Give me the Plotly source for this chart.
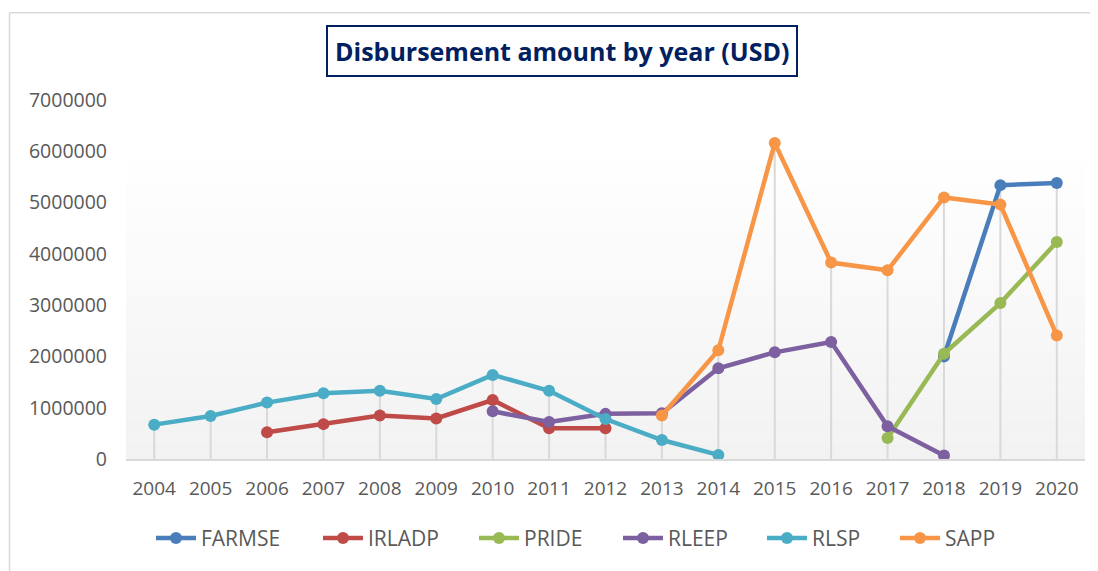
import plotly.graph_objects as go

years = list(range(2004, 2021))
series_names = ["FARMSE", "IRLADP", "PRIDE", "RLEEP", "RLSP", "SAPP"]

farmse = [None]*14 + [2000000, 5340000, 5380000]
irladp = [None, None, 520000, 680000, 850000, 790000, 1150000, 600000, 600000] + [None]*8
pride = [None]*13 + [410000, 2050000, 3040000, 4230000]
rleep = [None]*6 + [930000, 720000, 880000, 890000, 1770000, 2080000, 2280000, 640000, 70000, None, None]
rlsp = [670000, 840000, 1100000, 1280000, 1330000, 1170000, 1640000, 1330000, 780000, 370000, 80000] + [None]*6
sapp = [None]*9 + [850000, 2120000, 6160000, 3830000, 3680000, 5100000, 4960000, 2410000]

values = [farmse, irladp, pride, rleep, rlsp, sapp]
colors = ["#4A7EBB", "#BE4B48", "#98B954", "#7D60A0", "#4BACC6", "#F79646"]

y_ticks = [0, 1000000, 2000000, 3000000, 4000000, 5000000, 6000000, 7000000]

O = 8  # page body margin offset
W, H = 1098 - O, 571 - O
L, R, T, B = 126 - O, 13, 100 - O, 109
ph = H - T - B
pw = W - L - R

def py(pix):
    return (H - B - (pix - O)) / ph

def px(pix):
    return (pix - O - L) / pw

fig = go.Figure()

# drop lines (from axis up to the highest value at each year)
dx, dy = [], []
for i, yr in enumerate(years):
    vals = [s[i] for s in values if s[i] is not None]
    if vals:
        dx += [yr, yr, None]
        dy += [0, max(vals), None]
fig.add_trace(go.Scatter(x=dx, y=dy, mode="lines", line=dict(color="#D9D9D9", width=2),
                         hoverinfo="skip", showlegend=False))

legend_text_x = [201, 368, 524, 668, 812, 945]
legend_layout = {}
for k, (name, vals, col) in enumerate(zip(series_names, values, colors)):
    lname = "legend" if k == 0 else "legend%d" % (k + 1)
    fig.add_trace(go.Scatter(x=years, y=vals, name=name, mode="lines+markers",
                             line=dict(color=col, width=4.5),
                             marker=dict(color=col, size=12, symbol="circle"),
                             connectgaps=False, legend=lname))
    legend_layout[lname] = dict(orientation="h", x=px(legend_text_x[k] - 50), y=py(542),
                                xanchor="left", yanchor="middle",
                                font=dict(size=21, color="#595959"), itemwidth=40,
                                bgcolor="rgba(0,0,0,0)")

shapes = []
# gradient background of the plot area
n = 40
top = py(147)
c0 = (255, 255, 255)
c1 = (242, 242, 242)
for k in range(n):
    t = (k + 0.5) / n
    c = tuple(round(c0[j] + (c1[j] - c0[j]) * t) for j in range(3))
    y1 = top - top * k / n
    y0 = top - top * (k + 1) / n
    shapes.append(dict(type="rect", xref="paper", yref="paper", x0=0, x1=1, y0=y0, y1=y1,
                       fillcolor="rgb(%d,%d,%d)" % c, line=dict(width=0), layer="below"))
# outer chart border
shapes.append(dict(type="line", xref="paper", yref="paper", x0=px(9.5), x1=px(1100),
                   y0=py(12), y1=py(12), line=dict(color="#D9D9D9", width=1.5)))
shapes.append(dict(type="line", xref="paper", yref="paper", x0=px(9.5), x1=px(9.5),
                   y0=py(12), y1=py(575), line=dict(color="#D9D9D9", width=1.5)))

fig.update_layout(
    width=W, height=H,
    margin=dict(l=L, r=R, t=T, b=B),
    paper_bgcolor="white",
    plot_bgcolor="rgba(0,0,0,0)",
    font=dict(family="Open Sans", color="#595959", size=19),
    shapes=shapes,
    showlegend=True,
    annotations=[dict(text="<b>Disbursement amount by year (USD)</b>", xref="paper", yref="paper",
                      x=px(562), y=py(51), xanchor="center", yanchor="middle", showarrow=False,
                      font=dict(family="Open Sans", size=25, color="#002060"),
                      bordercolor="#002060", borderwidth=2, borderpad=7, bgcolor="white")],
    **legend_layout,
)

fig.update_xaxes(range=[2003.5, 2020.5], tickmode="array", tickvals=years,
                 ticktext=[str(y) for y in years], showgrid=False, zeroline=False,
                 showline=True, linecolor="#D9D9D9", linewidth=2, ticks="",
                 ticklabelstandoff=11, tickfont=dict(size=19, color="#595959"))
fig.update_yaxes(range=[0, 7000000], tickmode="array", tickvals=y_ticks,
                 ticktext=[str(v) for v in y_ticks], showgrid=False, zeroline=False,
                 showline=False, ticks="", ticklabelstandoff=18,
                 tickfont=dict(size=19.5, color="#595959"))

fig.write_html("out.html")
